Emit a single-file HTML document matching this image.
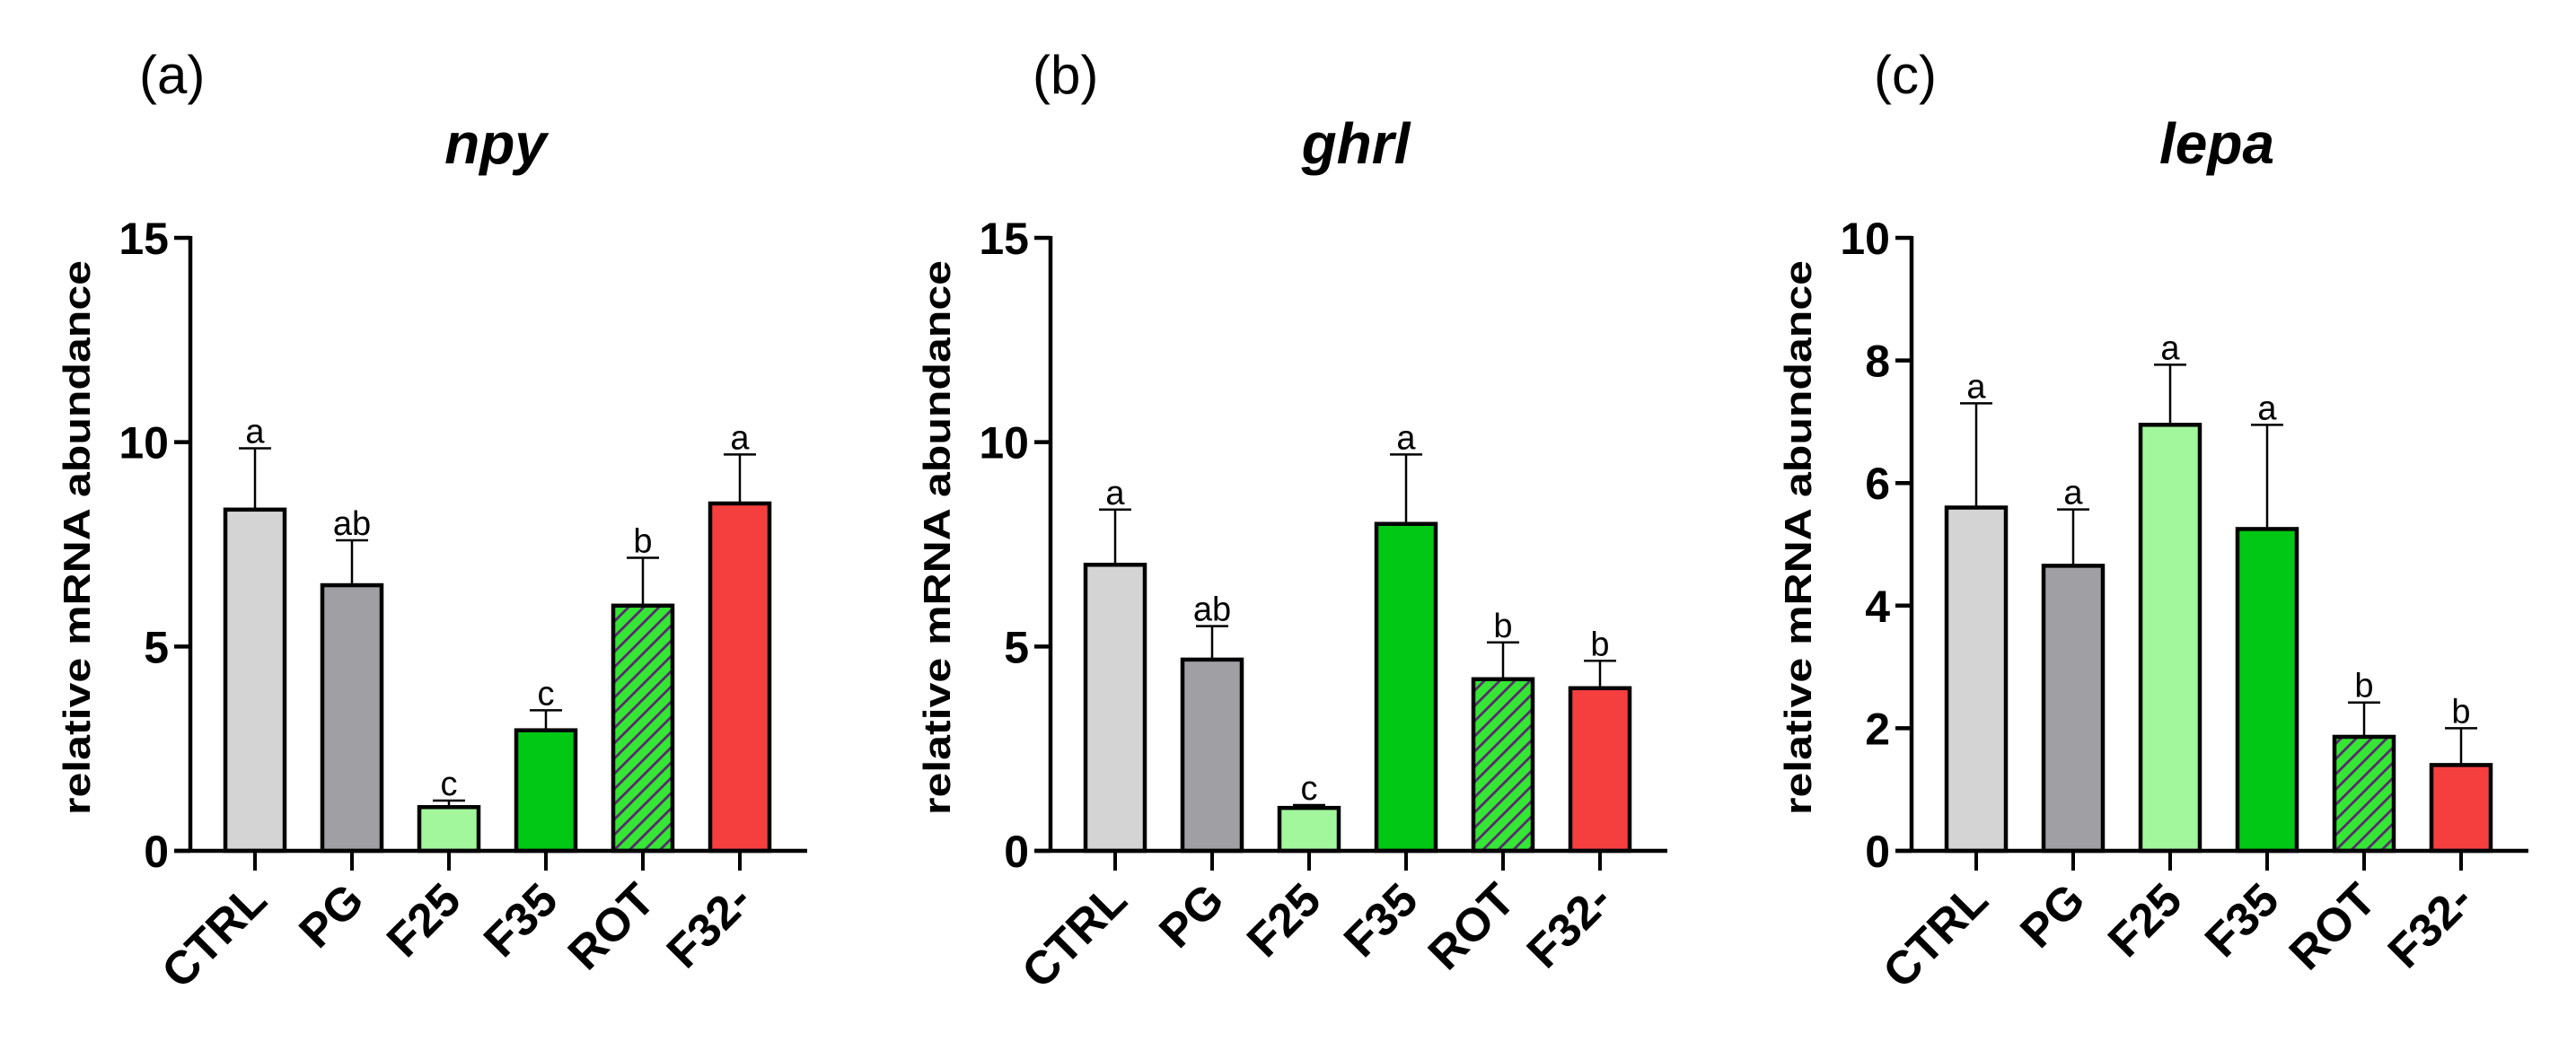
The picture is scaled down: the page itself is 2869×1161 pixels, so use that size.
<!DOCTYPE html>
<html><head><meta charset="utf-8"><style>
html,body{margin:0;padding:0;background:#fff;}
svg{display:block;}
</style></head><body>
<svg id="fig" width="2869" height="1161" viewBox="0 0 2869 1161" xmlns="http://www.w3.org/2000/svg">
<defs>
<pattern id="hatch" patternUnits="userSpaceOnUse" width="12" height="12" patternTransform="rotate(45)">
<rect width="12" height="12" fill="#35e635"/>
<rect x="0" y="0" width="2.8" height="12" fill="#5a2a6e"/>
</pattern>
</defs>
</svg>
<script>
const categories = ["CTRL","PG","F25","F35","ROT","F32-"];
const npyValues = [8.35, 6.5, 1.07, 2.95, 6.0, 8.5];
const npyErrors = [9.85, 7.6, 1.23, 3.44, 7.17, 9.7];
const npyLetters = ["a","ab","c","c","b","a"];
const ghrlValues = [7.0, 4.68, 1.05, 8.0, 4.2, 3.98];
const ghrlErrors = [8.35, 5.5, 1.12, 9.7, 5.1, 4.65];
const ghrlLetters = ["a","ab","c","a","b","b"];
const lepaValues = [5.6, 4.65, 6.95, 5.25, 1.86, 1.4];
const lepaErrors = [7.3, 5.57, 7.93, 6.95, 2.42, 2.0];
const lepaLetters = ["a","a","a","a","b","b"];
const ticks15 = [0,5,10,15];
const ticks10 = [0,2,4,6,8,10];

const fills = ["#d4d4d4","#a0a0a4","#a2f79c","#00c814","url(#hatch)","#f53f3f"];
const svg = document.getElementById('fig');
const NS = "http://www.w3.org/2000/svg";
function mk(tag, attrs, parent, text){
  const e = document.createElementNS(NS, tag);
  for (const k in attrs) e.setAttribute(k, attrs[k]);
  if (text !== undefined) e.textContent = text;
  (parent||svg).appendChild(e);
  return e;
}
const Y0 = 948, YTOP = 265;
function panel(ax, label, labelX, title, vals, errs, letters, ticks, ymax, pname){
  const g = mk('g', {});
  
  
  const y = v => Y0 - (v / ymax) * (Y0 - YTOP);
  const x = i => ax + 72 + i * 108;
  const lab = mk('text', {x: labelX, y: 104, 'font-family': 'Liberation Sans, sans-serif', 'font-size': 60}, g, label);
  
  
  const t = mk('text', {x: ax + 340, y: 182, 'text-anchor': 'middle', 'font-family': 'Liberation Sans, sans-serif', 'font-size': 64, 'font-weight': 'bold', 'font-style': 'italic'}, g, title);
  
  
  const yt = mk('text', {x: 0, y: 0, transform: `translate(${ax - 112},599) rotate(-90)`, 'text-anchor': 'middle', 'font-family': 'Liberation Sans, sans-serif', 'font-size': 42, 'font-weight': 'bold', textLength: 618, lengthAdjust: 'spacingAndGlyphs'}, g, 'relative mRNA abundance');
  
  
  vals.forEach((v, i) => {
    const cx = x(i);
    const eb = mk('g', {}, g);
    
    
    mk('line', {x1: cx, x2: cx, y1: y(v), y2: y(errs[i]), stroke: '#000', 'stroke-width': 2.5}, eb);
    mk('line', {x1: cx - 18, x2: cx + 18, y1: y(errs[i]), y2: y(errs[i]), stroke: '#000', 'stroke-width': 2.5}, eb);
    const r = mk('rect', {x: cx - 33, y: y(v), width: 66, height: Y0 - y(v), fill: fills[i], stroke: '#000', 'stroke-width': 4.5}, g);
    
    
    const lt = mk('text', {x: cx, y: y(errs[i]) - 6, 'text-anchor': 'middle', 'font-family': 'Liberation Sans, sans-serif', 'font-size': 38}, g, letters[i]);
    
    
    mk('line', {x1: cx, x2: cx, y1: Y0, y2: Y0 + 22, stroke: '#000', 'stroke-width': 4}, g);
    const xl = mk('text', {x: 0, y: 0, transform: `translate(${cx + 16},${Y0 + 58}) rotate(-45)`, 'text-anchor': 'end', 'font-family': 'Liberation Sans, sans-serif', 'font-size': 52, 'font-weight': 'bold'}, g, categories[i]);
    
    
  });
  const ya = mk('line', {x1: ax, x2: ax, y1: YTOP - 2, y2: Y0 + 2, stroke: '#000', 'stroke-width': 4.5}, g);
  
  
  const xa = mk('line', {x1: ax - 18, x2: ax + 687, y1: Y0, y2: Y0, stroke: '#000', 'stroke-width': 4.5}, g);
  
  
  ticks.forEach(tv => {
    mk('line', {x1: ax - 18, x2: ax, y1: y(tv), y2: y(tv), stroke: '#000', 'stroke-width': 4.5}, g);
    const tl = mk('text', {x: ax - 24, y: y(tv) + 18, 'text-anchor': 'end', 'font-family': 'Liberation Sans, sans-serif', 'font-size': 50, 'font-weight': 'bold'}, g, String(tv));
    
    
  });
}
panel(212, '(a)', 155, 'npy', npyValues, npyErrors, npyLetters, ticks15, 15, 'npy');
panel(1170, '(b)', 1150, 'ghrl', ghrlValues, ghrlErrors, ghrlLetters, ticks15, 15, 'ghrl');
panel(2129, '(c)', 2087, 'lepa', lepaValues, lepaErrors, lepaLetters, ticks10, 10, 'lepa');
</script>
</body></html>
